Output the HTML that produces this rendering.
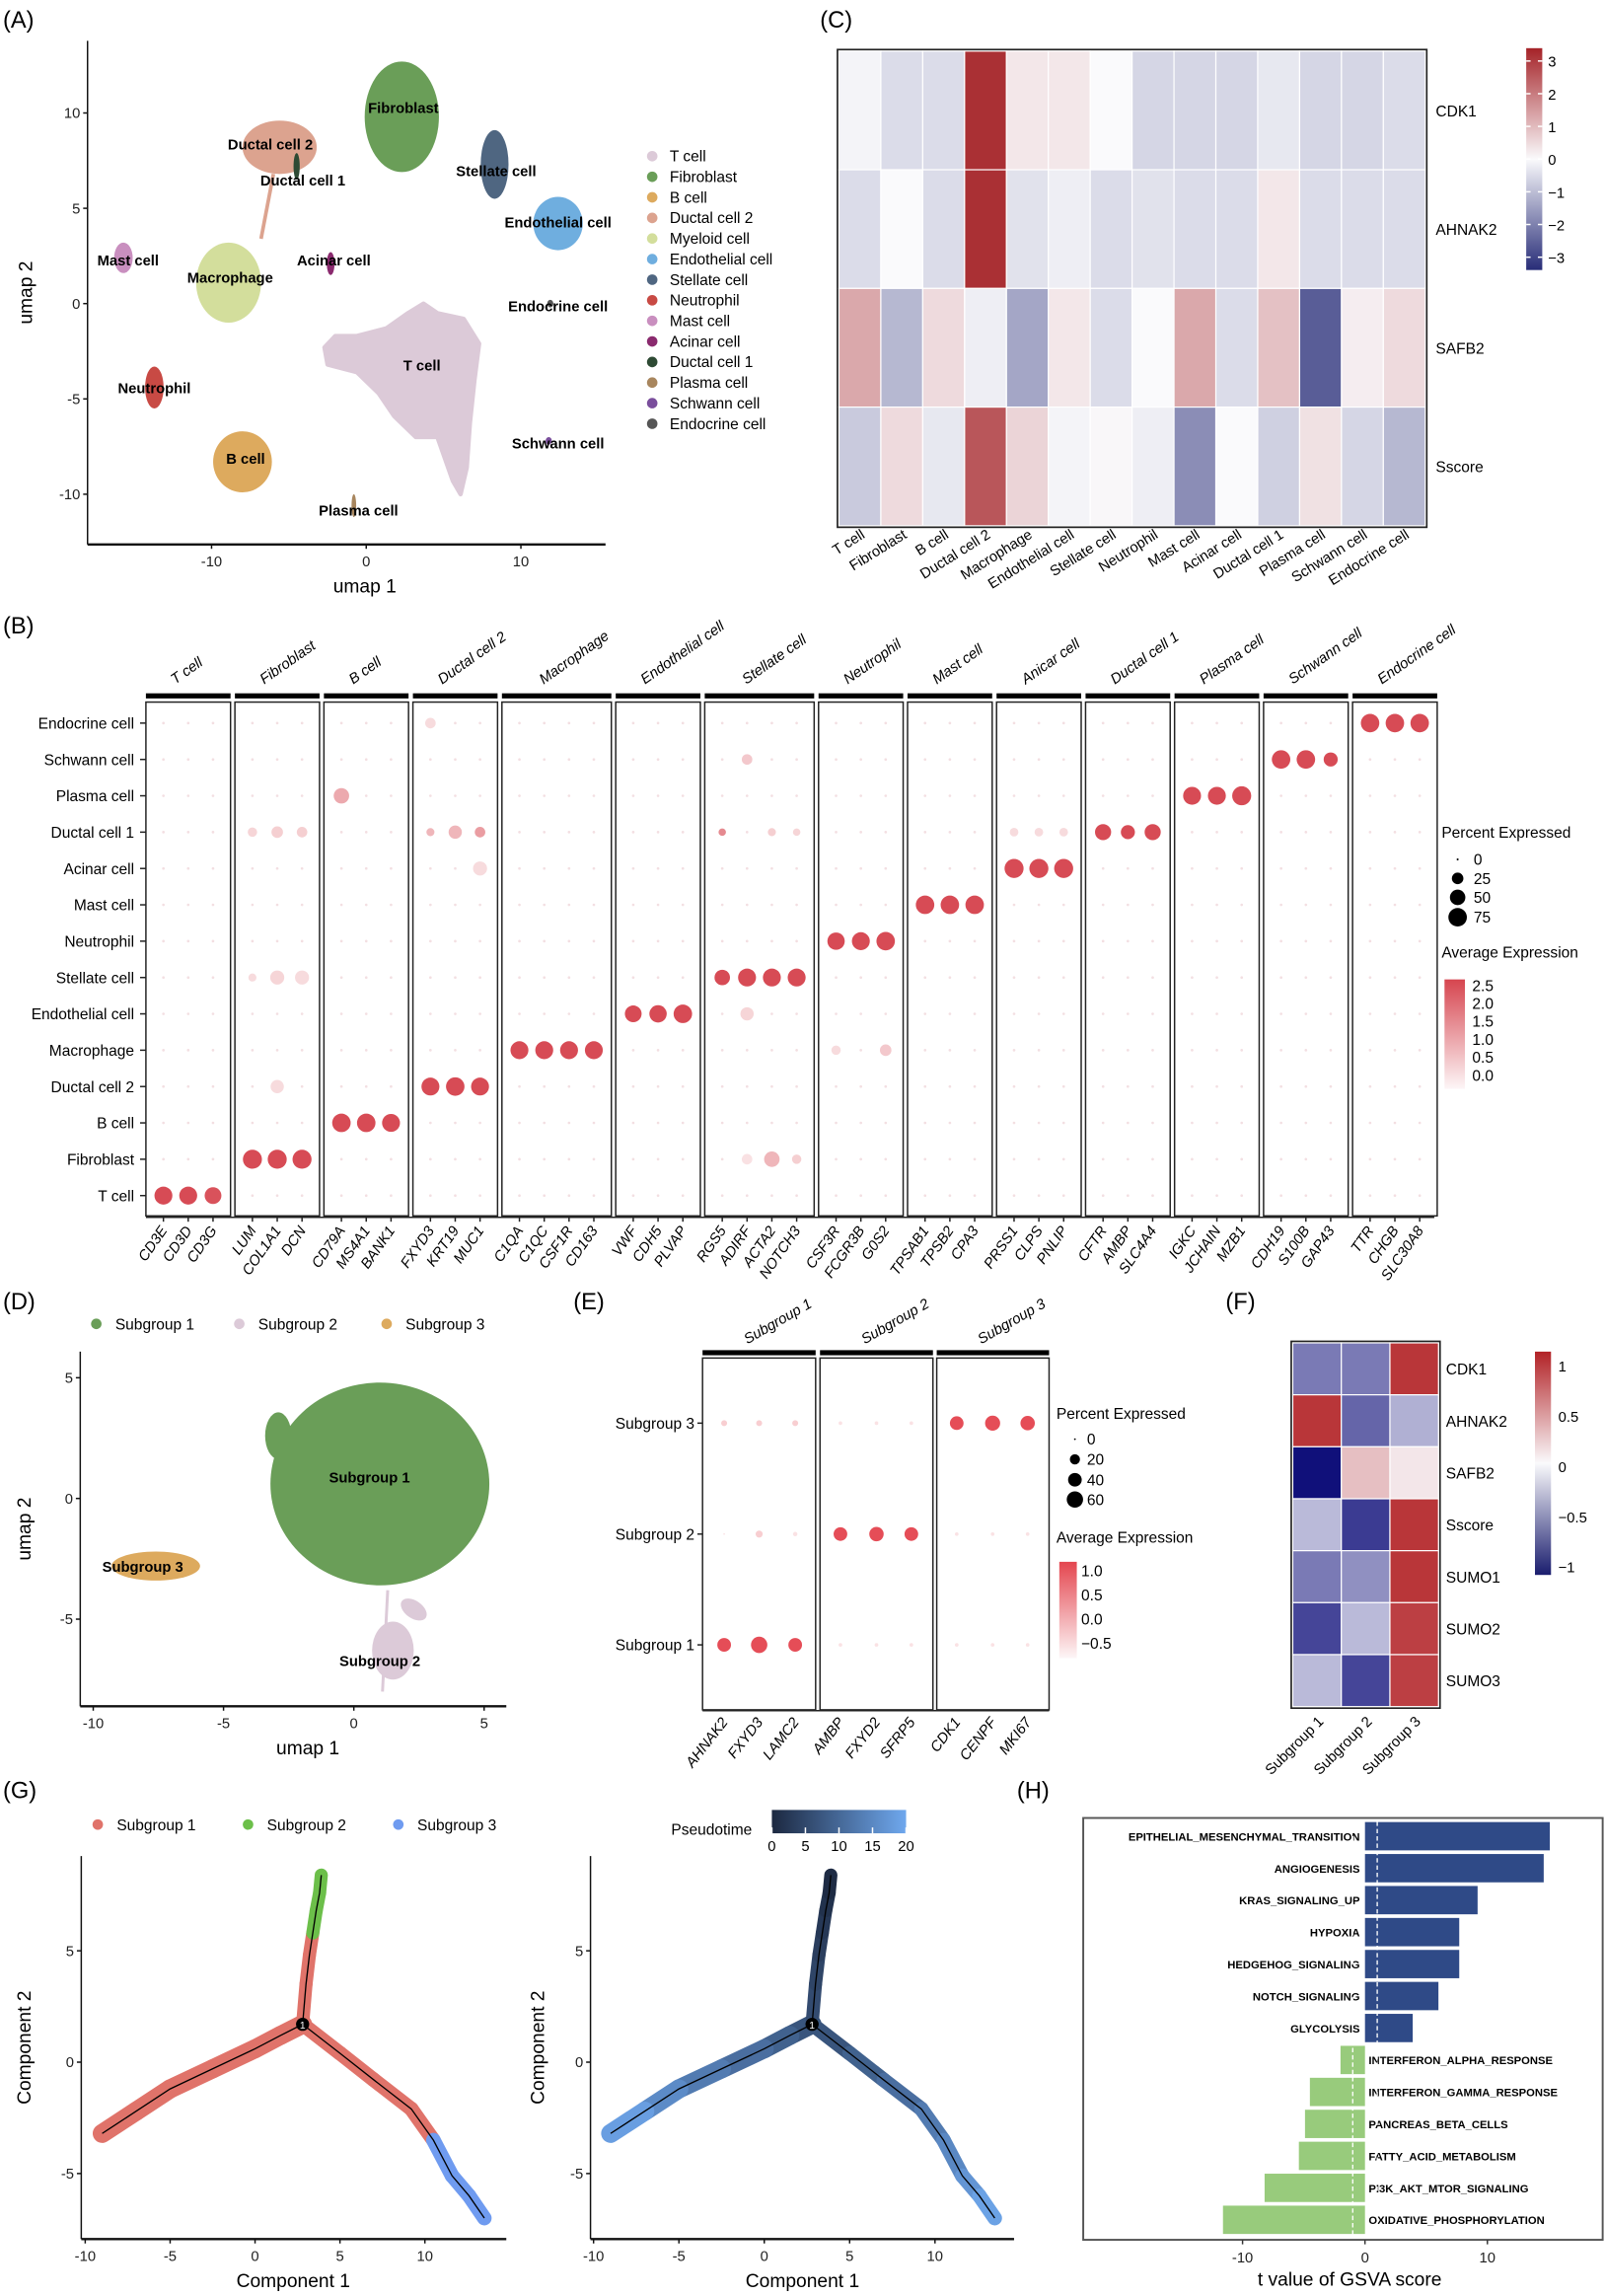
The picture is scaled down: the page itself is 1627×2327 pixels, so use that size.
<!DOCTYPE html>
<html><head><meta charset="utf-8"><title>Multi-panel figure</title>
<style>
html,body{margin:0;padding:0;background:#fff;}
svg{display:block;font-family:"Liberation Sans Narrow","Liberation Sans",Arial,sans-serif;}
</style></head>
<body>
<svg id="fig" xmlns="http://www.w3.org/2000/svg" width="1627" height="2327" viewBox="0 0 1100 1573" preserveAspectRatio="none">
<defs>
<linearGradient id="ptGrad" x1="0" x2="1" y1="0" y2="0"><stop offset="0" stop-color="#1c2840"/><stop offset="1" stop-color="#6fa8ee"/></linearGradient>
<linearGradient id="cGrad" x1="0" x2="0" y1="0" y2="1"><stop offset="0" stop-color="#a52328"/><stop offset="0.5" stop-color="#fafafc"/><stop offset="1" stop-color="#282d78"/></linearGradient>
<linearGradient id="fGrad" x1="0" x2="0" y1="0" y2="1"><stop offset="0" stop-color="#b22226"/><stop offset="0.5" stop-color="#fafafc"/><stop offset="1" stop-color="#1a1d6e"/></linearGradient>
<linearGradient id="bGrad" x1="0" x2="0" y1="0" y2="1"><stop offset="0" stop-color="#d6454f"/><stop offset="1" stop-color="#fdf6f7"/></linearGradient>
<linearGradient id="eGrad" x1="0" x2="0" y1="0" y2="1"><stop offset="0" stop-color="#e4464f"/><stop offset="1" stop-color="#fdf6f7"/></linearGradient>
</defs>
</svg>
<script>
// ---------- data ----------
const aClusterNames=["Fibroblast","Ductal cell 2","Stellate cell","Endothelial cell","Mast cell","Macrophage","Neutrophil","B cell","Acinar cell","Ductal cell 1","Plasma cell","Schwann cell","Endocrine cell"];
const aClusterX=[2.3,-5.6,8.3,12.4,-15.7,-8.9,-13.7,-8.0,-2.3,-4.5,-0.8,11.8,11.9];
const aClusterY=[9.8,8.2,7.3,4.2,2.4,1.1,-4.4,-8.3,2.1,7.2,-10.6,-7.2,0.0];
const aClusterRX=[2.4,2.4,0.9,1.6,0.6,2.1,0.6,1.9,0.25,0.2,0.15,0.2,0.2];
const aClusterRY=[2.9,1.4,1.8,1.4,0.8,2.1,1.1,1.6,0.6,0.7,0.6,0.2,0.2];
const aClusterCol=["#6a9e58","#dca38f","#4f6681","#6faedf","#c98fbf","#d3de9c","#c84a44","#ddaa5e","#8a2a6e","#2e4a34","#a8865e","#7a4e9c","#555555"];
const tCellPolyX=[3.7,4.6,6.3,7.3,7.0,6.7,6.5,6.1,5.6,4.6,3.2,1.8,0.8,-0.6,-2.5,-2.7,-2.0,-0.6,1.3,2.7];
const tCellPolyY=[0,-0.5,-0.8,-2.1,-4.0,-6.3,-8.6,-10.0,-9.3,-7.0,-7.0,-5.9,-4.7,-3.6,-3.2,-2.3,-1.7,-1.7,-1.3,-0.5];
const aLabelText=["Fibroblast","Ductal cell 2","Ductal cell 1","Stellate cell","Endothelial cell","Mast cell","Acinar cell","Macrophage","Endocrine cell","T cell","Neutrophil","B cell","Schwann cell","Plasma cell"];
const aLabelX=[2.4,-6.2,-4.1,8.4,12.4,-15.4,-2.1,-8.8,12.4,3.6,-13.7,-7.8,12.4,-0.5];
const aLabelY=[10.3,8.4,6.5,7.0,4.3,2.3,2.3,1.4,-0.1,-3.2,-4.4,-8.1,-7.3,-10.8];
const aLegend=["T cell","Fibroblast","B cell","Ductal cell 2","Myeloid cell","Endothelial cell","Stellate cell","Neutrophil","Mast cell","Acinar cell","Ductal cell 1","Plasma cell","Schwann cell","Endocrine cell"];
const aLegendCol=["#dccad8","#6a9e58","#ddaa5e","#dca38f","#d3de9c","#6faedf","#4f6681","#c84a44","#c98fbf","#8a2a6e","#2e4a34","#a8865e","#7a4e9c","#555555"];

const cCols=["T cell","Fibroblast","B cell","Ductal cell 2","Macrophage","Endothelial cell","Stellate cell","Neutrophil","Mast cell","Acinar cell","Ductal cell 1","Plasma cell","Schwann cell","Endocrine cell"];
const cRows=["CDK1","AHNAK2","SAFB2","Sscore"];
const cCDK1=[-0.1,-0.5,-0.5,3.2,0.3,0.3,0.0,-0.6,-0.6,-0.6,-0.3,-0.6,-0.6,-0.5];
const cAHNAK2=[-0.5,0.0,-0.5,3.2,-0.4,-0.2,-0.5,-0.4,-0.5,-0.5,0.3,-0.5,-0.5,-0.5];
const cSAFB2=[1.3,-1.1,0.5,-0.2,-1.4,0.3,-0.5,0.0,1.3,-0.5,0.9,-2.6,0.2,0.5];
const cSscore=[-0.8,0.5,-0.3,2.6,0.6,-0.1,0.05,-0.2,-1.8,0.0,-0.7,0.4,-0.6,-1.1];
const cTicks=[3,2,1,0,-1,-2,-3];

const bCellTypes=["T cell","Fibroblast","B cell","Ductal cell 2","Macrophage","Endothelial cell","Stellate cell","Neutrophil","Mast cell","Acinar cell","Ductal cell 1","Plasma cell","Schwann cell","Endocrine cell"];
const bGroupNames=["T cell","Fibroblast","B cell","Ductal cell 2","Macrophage","Endothelial cell","Stellate cell","Neutrophil","Mast cell","Anicar cell","Ductal cell 1","Plasma cell","Schwann cell","Endocrine cell"];
const bGroupSizes=[3,3,3,3,4,3,4,3,3,3,3,3,3,3];
const bGenes=["CD3E","CD3D","CD3G","LUM","COL1A1","DCN","CD79A","MS4A1","BANK1","FXYD3","KRT19","MUC1","C1QA","C1QC","CSF1R","CD163","VWF","CDH5","PLVAP","RGS5","ADIRF","ACTA2","NOTCH3","CSF3R","FCGR3B","G0S2","TPSAB1","TPSB2","CPA3","PRSS1","CLPS","PNLIP","CFTR","AMBP","SLC4A4","IGKC","JCHAIN","MZB1","CDH19","S100B","GAP43","TTR","CHGB","SLC30A8"];
const bDiagPct=[70,70,60,80,80,80,75,75,70,70,75,70,70,70,70,70,60,65,75,50,70,70,70,65,70,75,75,75,75,80,80,80,55,40,55,70,70,80,75,75,40,75,75,75];
const bDiagAvg=[2.5,2.5,2.4,2.5,2.5,2.5,2.5,2.5,2.5,2.5,2.5,2.5,2.5,2.5,2.5,2.5,2.5,2.5,2.5,2.5,2.5,2.5,2.5,2.5,2.5,2.5,2.5,2.5,2.5,2.5,2.5,2.5,2.5,2.5,2.5,2.5,2.5,2.5,2.5,2.5,2.5,2.5,2.5,2.5];
const bOffGene=[6,3,4,5,9,10,11,19,21,22,29,30,31,11,3,4,5,20,23,25,4,20,21,22,20,9];
const bOffRow=[11,10,10,10,10,10,10,10,10,10,10,10,10,9,6,6,6,5,4,4,3,1,1,1,12,13];
const bOffPct=[50,15,25,20,10,35,20,8,10,8,12,12,12,40,10,40,40,35,15,25,35,20,50,15,20,20];
const bOffAvg=[1.0,0.3,0.4,0.4,0.8,0.8,1.2,1.5,0.4,0.3,0.2,0.2,0.2,0.2,0.2,0.3,0.2,0.3,0.2,0.5,0.2,0.1,0.8,0.4,0.5,0.2];
const bPctLegend=[0,25,50,75];
const bAvgTicks=[2.5,2.0,1.5,1.0,0.5,0.0];

const dGroups=["Subgroup 1","Subgroup 2","Subgroup 3"];
const dGroupCol=["#6a9e58","#dccad8","#ddaa5e"];
const dBlobX=[1.0,1.5,-7.6];
const dBlobY=[0.6,-6.3,-2.8];
const dBlobRX=[4.2,0.8,1.7];
const dBlobRY=[4.2,1.2,0.6];
const dTicksX=[-10,-5,0,5];
const dTicksY=[5,0,-5];

const eRows=["Subgroup 1","Subgroup 2","Subgroup 3"];
const eGenes=["AHNAK2","FXYD3","LAMC2","AMBP","FXYD2","SFRP5","CDK1","CENPF","MKI67"];
const ePct1=[40,60,40,1,1,1,1,1,1];
const ePct2=[0,8,2,40,45,40,1,1,1];
const ePct3=[5,5,5,1,1,1,40,50,45];
const eAvg1=[1.0,1.0,1.0,-0.5,-0.5,-0.5,-0.5,-0.5,-0.5];
const eAvg2=[-0.5,-0.3,-0.5,1.0,1.0,1.0,-0.5,-0.5,-0.5];
const eAvg3=[-0.3,-0.3,-0.3,-0.5,-0.5,-0.5,1.0,1.0,1.0];
const ePctLegend=[0,20,40,60];
const eAvgTicks=[1.0,0.5,0.0,-0.5];

const fRows=["CDK1","AHNAK2","SAFB2","Sscore","SUMO1","SUMO2","SUMO3"];
const fSub1=[-0.6,1.0,-1.1,-0.3,-0.6,-0.85,-0.3];
const fSub2=[-0.6,-0.7,0.3,-0.9,-0.5,-0.3,-0.85];
const fSub3=[1.0,-0.35,0.1,1.0,1.0,0.95,0.95];
const fTicks=[1,0.5,0,-0.5,-1];

const gLeftX=[2.8,1.5,0,-2.5,-5,-7,-9];
const gLeftY=[1.7,1.2,0.6,-0.3,-1.2,-2.2,-3.2];
const gLeftPT=[6,8,10,12,14,17,20];
const gUpX=[2.8,3.0,3.2,3.4,3.6,3.8,3.9];
const gUpY=[1.7,3.5,4.8,5.8,6.8,7.6,8.4];
const gUpPT=[6,5,4,3,2,1,0];
const gRightX=[2.8,5,7,9.2,10.5,11.6,12.6,13.5];
const gRightY=[1.7,0.4,-0.8,-2.1,-3.5,-5.1,-6.0,-7.0];
const gRightPT=[6,8,10,12,14,16,18,20];
const gTicksX=[-10,-5,0,5,10];
const gTicksY=[5,0,-5];
const gPtTicks=[0,5,10,15,20];

const hTerms=["EPITHELIAL_MESENCHYMAL_TRANSITION","ANGIOGENESIS","KRAS_SIGNALING_UP","HYPOXIA","HEDGEHOG_SIGNALING","NOTCH_SIGNALING","GLYCOLYSIS","INTERFERON_ALPHA_RESPONSE","INTERFERON_GAMMA_RESPONSE","PANCREAS_BETA_CELLS","FATTY_ACID_METABOLISM","PI3K_AKT_MTOR_SIGNALING","OXIDATIVE_PHOSPHORYLATION"];
const hValues=[15.1,14.6,9.2,7.7,7.7,6.0,3.9,-2.0,-4.5,-4.9,-5.4,-8.2,-11.6];
const hTicks=[-10,0,10];

// ---------- helpers ----------
const svg=document.getElementById('fig');
const NS="http://www.w3.org/2000/svg";
function mk(tag,attrs,parent){const e=document.createElementNS(NS,tag);for(const k in attrs)e.setAttribute(k,attrs[k]);(parent||svg).appendChild(e);return e;}
function txt(s,x,y,size,opts,parent){opts=opts||{};const a={x:x,y:y,'font-size':size,fill:opts.fill||'#000'};if(opts.anchor)a['text-anchor']=opts.anchor;if(opts.weight)a['font-weight']=opts.weight;if(opts.style)a['font-style']=opts.style;if(opts.rot!==undefined)a.transform='rotate('+opts.rot+' '+x+' '+y+')';const t=mk('text',a,parent);t.textContent=s;return t;}
function lerp(a,b,t){return a+(b-a)*t;}
function rgb(c){return 'rgb('+c.map(Math.round).join(',')+')';}
function div(v,max,pos,neg){const w=[250,250,252];let t=Math.max(-1,Math.min(1,v/max));if(t>=0)return rgb(w.map((x,i)=>lerp(x,pos[i],t)));return rgb(w.map((x,i)=>lerp(x,neg[i],-t)));}
function seq(v,lo,hi,c){const w=[253,244,245];const t=Math.max(0,Math.min(1,(v-lo)/(hi-lo)));return rgb(w.map((x,i)=>lerp(x,c[i],t)));}
function g(name){const e=mk('g',{});return e;}
function panelLetter(s,x,y){const t=txt(s,x,y,16,{});}
function axes(G,x0,x1,y0,y1,xs,ys,tx,ty,xlab,ylab,xlx,ylx){
  const ax=mk('line',{x1:x0,x2:x1,y1:y1,y2:y1,stroke:'#111','stroke-width':1.6},G);
  
  const ay=mk('line',{x1:x0,x2:x0,y1:y0,y2:y1,stroke:'#111','stroke-width':1},G);
  
  tx.forEach(v=>{mk('line',{x1:xs(v),x2:xs(v),y1:y1,y2:y1+3,stroke:'#111'},G);const t=txt(v,xs(v),y1+15,10,{anchor:'middle',fill:'#222'},G);});
  ty.forEach(v=>{mk('line',{x1:x0,x2:x0-3,y1:ys(v),y2:ys(v),stroke:'#111'},G);const t=txt(v,x0-5,ys(v)+3.5,10,{anchor:'end',fill:'#222'},G);});
  const xt=txt(xlab,xlx,y1+33,13,{anchor:'middle'},G);
  const yt=txt(ylab,ylx,(y0+y1)/2,13,{anchor:'middle',rot:-90},G);
}

// ---------- Panel A ----------
(function(){
  const G=g('panel-a-umap');
  panelLetter('(A)',2,19);
  const xs=v=>251+v*10.6, ys=v=>208-v*13.06;
  const pts=tCellPolyX.map((x,i)=>xs(x)+','+ys(tCellPolyY[i])).join(' ');
  const tp=mk('polygon',{points:pts,fill:'#dccad8','stroke':'#dccad8','stroke-width':3,'stroke-linejoin':'round'},G);
  
  const tail=mk('line',{x1:xs(-6.0),y1:ys(6.8),x2:xs(-6.8),y2:ys(3.4),stroke:'#dca38f','stroke-width':2.5},G);
  
  aClusterNames.forEach((n,i)=>{
    const e=mk('ellipse',{cx:xs(aClusterX[i]),cy:ys(aClusterY[i]),rx:Math.max(1.5,aClusterRX[i]*10.6),ry:Math.max(1.5,aClusterRY[i]*13.06),fill:aClusterCol[i]},G);
    
    
  });
  axes(G,60,415,28,373,xs,ys,[-10,0,10],[10,5,0,-5,-10],'umap 1','umap 2',250,22);
  aLabelText.forEach((s,i)=>{const t=txt(s,xs(aLabelX[i]),ys(aLabelY[i])+4,10,{anchor:'middle',weight:'bold'},G);
    });
  aLegend.forEach((s,i)=>{const y=107+i*14.1;
    const c=mk('circle',{cx:447,cy:y,r:3.6,fill:aLegendCol[i]},G);
    
    const t=txt(s,459,y+3.6,10.5,{},G);
    });
})();

// ---------- Panel C ----------
(function(){
  const G=g('panel-c-heatmap');
  panelLetter('(C)',562,19);
  const x0=575,cw=28.7,y0=35,rh=81.3;
  const rowsData=[cCDK1,cAHNAK2,cSAFB2,cSscore];
  mk('rect',{x:x0-1,y:y0-1,width:cw*14+2,height:rh*4+2,fill:'none',stroke:'#222','stroke-width':1.2},G);
  rowsData.forEach((arr,r)=>{arr.forEach((v,c)=>{
    const e=mk('rect',{x:x0+c*cw,y:y0+r*rh,width:cw,height:rh,fill:div(v,3.4,[165,35,40],[40,45,120]),stroke:'#fff','stroke-width':0.8},G);
    });
    const t=txt(cRows[r],984,y0+r*rh+rh/2+4,10.5,{},G);});
  cCols.forEach((s,c)=>{const x=x0+c*cw+cw/2+4;const t=txt(s,x,368,10,{anchor:'end',rot:-32},G);});
  const cb=mk('rect',{x:1046,y:33,width:11,height:152,fill:'url(#cGrad)'},G);
  cTicks.forEach(v=>{const y=109-v*22.4;mk('line',{x1:1046,x2:1049,y1:y,y2:y,stroke:'#fff'},G);mk('line',{x1:1054,x2:1057,y1:y,y2:y,stroke:'#fff'},G);
    const t=txt(v===0?'0':(v<0?'\u2212'+(-v):String(v)),1061,y+4,10,{},G);});
})();

// ---------- Panel B ----------
(function(){
  const G=g('panel-b-dotplot');
  panelLetter('(B)',2,434);
  const rowY=i=>819.1-i*24.9;
  const s=17,p=7,gap=3;
  let gx=100;const geneX=[];
  bGroupSizes.forEach((n,k)=>{const w=n*s+p;
    const bar=mk('rect',{x:gx,y:475,width:w,height:3.5,fill:'#000'},G);
    const box=mk('rect',{x:gx,y:481,width:w,height:352,fill:'none',stroke:'#222','stroke-width':1},G);
    const t=txt(bGroupNames[k],gx+w/2-9,469,10,{style:'italic',rot:-35},G);
    for(let j=0;j<n;j++){geneX.push(gx+p/2+s*(j+0.5));}
    gx+=w+gap;});
  const rad=pc=>0.7+6*Math.sqrt(pc/85);
  bCellTypes.forEach((c,r)=>{geneX.forEach((x)=>{mk('circle',{cx:x,cy:rowY(r),r:0.9,fill:'#f3dfe2'},G);});});
  bOffGene.forEach((gI,k)=>{const e=mk('circle',{cx:geneX[gI],cy:rowY(bOffRow[k]),r:rad(bOffPct[k]),fill:seq(bOffAvg[k],-0.2,2.6,[214,69,79])},G);
    });
  let idx=0;bGroupSizes.forEach((n,k)=>{for(let j=0;j<n;j++){const e=mk('circle',{cx:geneX[idx],cy:rowY(k),r:rad(bDiagPct[idx]),fill:seq(bDiagAvg[idx],-0.2,2.6,[214,69,79])},G);
    idx++;}});
  bCellTypes.forEach((c,r)=>{mk('line',{x1:96,x2:100,y1:rowY(r),y2:rowY(r),stroke:'#222'},G);const t=txt(c,92,rowY(r)+3.8,10.5,{anchor:'end'},G);});
  mk('line',{x1:100,x2:983,y1:834,y2:834,stroke:'#222','stroke-width':1},G);
  bGenes.forEach((s2,i)=>{mk('line',{x1:geneX[i],x2:geneX[i],y1:834,y2:837,stroke:'#222'},G);const t=txt(s2,geneX[i]+3,843,10,{anchor:'end',style:'italic',rot:-55},G);});
  const l1=txt('Percent Expressed',988,574,10.5,{},G);
  bPctLegend.forEach((v,i)=>{const y=[588.8,601.8,614.8,628.4][i];mk('circle',{cx:999,cy:y,r:rad(v),fill:'#000'},G);const t=txt(v,1010,y+3.8,10.5,{},G);});
  const l2=txt('Average Expression',988,656,10.5,{},G);
  const cb=mk('rect',{x:990,y:671,width:14,height:75,fill:'url(#bGrad)'},G);
  bAvgTicks.forEach(v=>{const y=736.6-v*24.6;const t=txt(v.toFixed(1),1009,y+3.8,10.5,{},G);});
})();

// ---------- Panel D ----------
(function(){
  const G=g('panel-d-umap');
  panelLetter('(D)',2,897);
  const xs=v=>242.5+v*17.86, ys=v=>1026.6-v*16.54;
  const st=mk('line',{x1:xs(1.3),y1:ys(-3.8),x2:xs(1.1),y2:ys(-8.0),stroke:'#dccad8','stroke-width':2},G);
  const st2=mk('ellipse',{cx:xs(2.3),cy:ys(-4.6),rx:10,ry:6,fill:'#dccad8',transform:'rotate(35 '+xs(2.3)+' '+ys(-4.6)+')'},G);
  dGroups.forEach((n,i)=>{const e=mk('ellipse',{cx:xs(dBlobX[i]),cy:ys(dBlobY[i]),rx:dBlobRX[i]*17.86,ry:dBlobRY[i]*16.54,fill:dGroupCol[i]},G);
    });
  const sp=mk('ellipse',{cx:xs(-2.9),cy:ys(2.6),rx:9,ry:16,fill:'#6a9e58'},G);
  axes(G,55,347,926,1169,xs,ys,dTicksX,dTicksY,'umap 1','umap 2',211,21);
  [["Subgroup 1",0.6,0.9],["Subgroup 3",-8.1,-2.8],["Subgroup 2",1.0,-6.7]].forEach(a=>{const t=txt(a[0],xs(a[1]),ys(a[2])+4,10,{anchor:'middle',weight:'bold'},G);});
  dGroups.forEach((n,i)=>{const x=[66,164,265][i];const c=mk('circle',{cx:x,cy:907,r:3.6,fill:dGroupCol[i]},G);
    const t=txt(n,x+13,911,10.5,{},G);});
})();

// ---------- Panel E ----------
(function(){
  const G=g('panel-e-dotplot');
  panelLetter('(E)',393,897);
  const boxes=[[481.5,559],[562,639.4],[642,719]];
  const geneX=[496.3,520.3,545,576,600.7,624.6,655.7,680.3,704.3];
  const rowY=[1126.9,1051,975];
  boxes.forEach((b,k)=>{const bar=mk('rect',{x:b[0],y:925,width:b[1]-b[0],height:3.5,fill:'#000'},G);
    const bx=mk('rect',{x:b[0],y:930.4,width:b[1]-b[0],height:241,fill:'none',stroke:'#222'},G);
    const t=txt(eRows[k],(b[0]+b[1])/2-8,921,10,{style:'italic',rot:-30},G);});
  const rad=pc=>0.6+5*Math.sqrt(pc/60);
  const pcts=[ePct1,ePct2,ePct3],avgs=[eAvg1,eAvg2,eAvg3];
  pcts.forEach((arr,r)=>{arr.forEach((v,i)=>{const e=mk('circle',{cx:geneX[i],cy:rowY[r],r:rad(v),fill:seq(avgs[r][i],-0.68,1.07,[228,70,80])},G);
    });
    mk('line',{x1:478,x2:481.5,y1:rowY[r],y2:rowY[r],stroke:'#222'},G);
    const t=txt(eRows[r],476,rowY[r]+3.8,10.5,{anchor:'end'},G);});
  mk('line',{x1:481.5,x2:719,y1:1172,y2:1172,stroke:'#222'},G);
  eGenes.forEach((s,i)=>{const t=txt(s,geneX[i]+3,1180,10,{anchor:'end',style:'italic',rot:-52},G);});
  const l1=txt('Percent Expressed',724,972,10.5,{},G);
  ePctLegend.forEach((v,i)=>{const y=[986,999.8,1013.8,1027.3][i];mk('circle',{cx:736.7,cy:y,r:rad(v),fill:'#000'},G);const t=txt(v,745,y+3.8,10.5,{},G);});
  const l2=txt('Average Expression',724,1057,10.5,{},G);
  const cb=mk('rect',{x:726,y:1070,width:12,height:66,fill:'url(#eGrad)'},G);
  eAvgTicks.forEach(v=>{const y=1109.3-v*33.1;const t=txt(v<0?'\u2212'+(-v).toFixed(1):v.toFixed(1),741,y+3.8,10.5,{},G);});
})();

// ---------- Panel F ----------
(function(){
  const G=g('panel-f-heatmap');
  panelLetter('(F)',840,897);
  const x0=886,cw=33.3,y0=920,rh=35.6;
  const cols=[fSub1,fSub2,fSub3];
  mk('rect',{x:x0-1,y:y0-1,width:cw*3+2,height:rh*7+2,fill:'none',stroke:'#222','stroke-width':1.2},G);
  cols.forEach((arr,c)=>{arr.forEach((v,r)=>{const e=mk('rect',{x:x0+c*cw,y:y0+r*rh,width:cw,height:rh,fill:div(v,1.1,[178,34,38],[16,16,122]),stroke:'#fff','stroke-width':0.8},G);
    });
    const t=txt(dGroups[c],x0+c*cw+cw/2+5,1180,10,{anchor:'end',rot:-45},G);});
  fRows.forEach((s,r)=>{const t=txt(s,991,y0+r*rh+rh/2+4,10.5,{},G);});
  const cb=mk('rect',{x:1052,y:926,width:11,height:153,fill:'url(#fGrad)'},G);
  fTicks.forEach(v=>{const y=1004.5-v*68.8;const t=txt(v<0?'\u2212'+(-v):String(v),1068,y+4,10,{},G);});
})();

// ---------- Panel G ----------
function ptColor(p){const a=[28,40,64],b=[111,168,238];const t=p/20;return rgb(a.map((x,i)=>lerp(x,b[i],t)));}
function branch(G,xs,ys,X,Y,colorFn,w){for(let i=0;i<X.length-1;i++){const e=mk('line',{x1:xs(X[i]),y1:ys(Y[i]),x2:xs(X[i+1]),y2:ys(Y[i+1]),stroke:colorFn(i),'stroke-width':w,'stroke-linecap':'round'},G);
  }}
function traj(G,xs,ys){[[gLeftX,gLeftY],[gUpX,gUpY],[gRightX,gRightY]].forEach(b=>{const pts=b[0].map((x,i)=>xs(x)+','+ys(b[1][i])).join(' ');
  const l=mk('polyline',{points:pts,fill:'none',stroke:'#000','stroke-width':0.9},G);});
  const c=mk('circle',{cx:xs(2.8),cy:ys(1.7),r:4.5,fill:'#000'},G);
  const t=txt('1',xs(2.8),ys(1.7)+3,7,{anchor:'middle',fill:'#fff'},G);}
(function(){
  const G=g('panel-g-trajectory-state');
  panelLetter('(G)',2,1232);
  const xs=v=>174.8+v*11.64, ys=v=>1412.8-v*15.26;
  branch(G,xs,ys,gLeftX,gLeftY,()=> '#e0736a',13);
  branch(G,xs,ys,gUpX,gUpY,i=> i>=3?'#6cbf4a':'#e0736a',9);
  branch(G,xs,ys,gRightX,gRightY,i=> i>=4?'#6f9bf0':'#e0736a',10);
  traj(G,xs,ys);
  axes(G,55.7,347,1271.6,1534,xs,ys,gTicksX,gTicksY,'Component 1','Component 2',201,21);
  dGroups.forEach((n,i)=>{const x=[67,170,273][i];const c=mk('circle',{cx:x,cy:1250,r:3.6,fill:['#e0736a','#6cbf4a','#6f9bf0'][i]},G);
    const t=txt(n,x+13,1254,10.5,{},G);});
})();
(function(){
  const G=g('panel-g-trajectory-pseudotime');
  const xs=v=>523.8+v*11.7, ys=v=>1412.8-v*15.26;
  branch(G,xs,ys,gLeftX,gLeftY,i=>ptColor((gLeftPT[i]+gLeftPT[i+1])/2),13);
  branch(G,xs,ys,gUpX,gUpY,i=>ptColor((gUpPT[i]+gUpPT[i+1])/2),9);
  branch(G,xs,ys,gRightX,gRightY,i=>ptColor((gRightPT[i]+gRightPT[i+1])/2),10);
  traj(G,xs,ys);
  axes(G,404.7,695,1271.6,1534,xs,ys,gTicksX,gTicksY,'Component 1','Component 2',550,373);
  const l=txt('Pseudotime',460,1257,10.5,{},G);
  const cb=mk('rect',{x:529,y:1240,width:92,height:16,fill:'url(#ptGrad)'},G);
  gPtTicks.forEach(v=>{const x=529+v*4.6;mk('line',{x1:x,x2:x,y1:1252,y2:1256,stroke:'#fff'},G);const t=txt(v,x,1268,10,{anchor:'middle'},G);});
})();

// ---------- Panel H ----------
(function(){
  const G=g('panel-h-gsva-bars');
  panelLetter('(H)',697,1232);
  const xs=v=>935.5+v*8.39;
  const fr=mk('rect',{x:742.4,y:1245.5,width:356,height:289,fill:'none',stroke:'#555','stroke-width':1.3},G);
  hValues.forEach((v,i)=>{const cy=1258+i*21.9;const x=Math.min(xs(0),xs(v));
    const b=mk('rect',{x:x,y:cy-9.7,width:Math.abs(xs(v)-xs(0)),height:19.4,fill:v>0?'#2f4a87':'#98cb7c'},G);
    
    const t=v>0?txt(hTerms[i],932,cy+3,7.6,{anchor:'end',weight:'bold'},G):txt(hTerms[i],938,cy+3,7.6,{weight:'bold'},G);
    });
  [1,-1].forEach(v=>{const l=mk('line',{x1:xs(v),x2:xs(v),y1:1248,y2:1532,stroke:'#fff','stroke-width':0.9,'stroke-dasharray':'3,2'},G);});
  hTicks.forEach(v=>{mk('line',{x1:xs(v),x2:xs(v),y1:1534.6,y2:1537.6,stroke:'#333'},G);const t=txt(v,xs(v),1550,10,{anchor:'middle',fill:'#222'},G);});
  const xt=txt('t value of GSVA score',925,1566,13,{anchor:'middle'},G);
})();
</script>
</body></html>
